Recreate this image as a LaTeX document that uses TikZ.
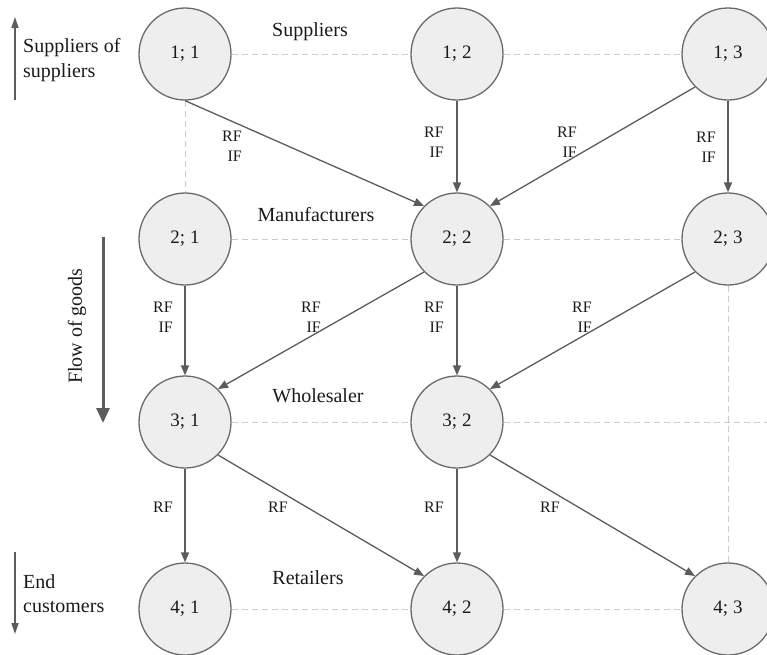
\documentclass[tikz,border=0pt]{standalone}
\usepackage{fontspec}
\setmainfont{Liberation Serif}
\usetikzlibrary{arrows.meta}
\definecolor{nodefill}{HTML}{EEEEEE}
\definecolor{nodeline}{HTML}{6A6A6A}
\definecolor{flow}{HTML}{5C5C5C}
\definecolor{grid}{HTML}{CCCCCC}
\definecolor{ink}{HTML}{1A1A1A}

\begin{document}
\begin{tikzpicture}[x=1pt,y=-1pt,
  firm/.style={circle, draw=nodeline, fill=nodefill, line width=1.3pt,
    minimum size=92pt, inner sep=0pt, text=ink, font=\fontsize{19}{23}\selectfont},
  link/.style={draw=flow, line width=1.3pt, -{Triangle[length=10pt,width=8pt]}},
  tie/.style={draw=grid, line width=1pt, dash pattern=on 6pt off 4pt},
  flowlabel/.style={anchor=east, align=right, inner sep=0pt, text=ink,
    font=\fontsize{16}{20}\selectfont},
  tier/.style={inner sep=0pt, text=ink, font=\fontsize{20}{24}\selectfont},
  side/.style={anchor=west, align=left, inner sep=0pt, text=ink},
  sidearrow/.style={draw=flow, line width=1.6pt, -{Triangle[length=11pt,width=7pt]}},
  goodsarrow/.style={draw=flow, line width=3pt, -{Triangle[length=15pt,width=13pt]}}
]
\useasboundingbox (0,0) rectangle (767,654);

% firms of the supply network, tier;position
\node[firm] (n11) at (185,54)  {1; 1};
\node[firm] (n12) at (457,54)  {1; 2};
\node[firm] (n13) at (728,54)  {1; 3};
\node[firm] (n21) at (185,239) {2; 1};
\node[firm] (n22) at (457,239) {2; 2};
\node[firm] (n23) at (728,239) {2; 3};
\node[firm] (n31) at (185,422) {3; 1};
\node[firm] (n32) at (457,422) {3; 2};
\node[firm] (n41) at (185,609) {4; 1};
\node[firm] (n42) at (457,609) {4; 2};
\node[firm] (n43) at (728,609) {4; 3};
\coordinate (rowthreeend) at (767,422);

% dashed grid between firms
\draw[tie] (n11.east) -- (n12.west);
\draw[tie] (n12.east) -- (n13.west);
\draw[tie] (n21.east) -- (n22.west);
\draw[tie] (n22.east) -- (n23.west);
\draw[tie] (n31.east) -- (n32.west);
\draw[tie] (n32.east) -- (rowthreeend);
\draw[tie] (n41.east) -- (n42.west);
\draw[tie] (n42.east) -- (n43.west);
\draw[tie] (n11.south) -- (n21.north);
\draw[tie] (n23.south) -- (n43.north);

% tier names
\node[tier] (tsup) at (310,32)  {Suppliers};
\node[tier] (tman) at (316,215) {Manufacturers};
\node[tier] (twho) at (318,396) {Wholesaler};
\node[tier] (tret) at (308,578) {Retailers};

% flows between firms
\draw[link] (n11.south) -- (n22.north west);
\draw[link] (n12.south) -- (n22.north);
\draw[link] (n13.south west) -- (n22.north east);
\draw[link] (n13.south) -- (n23.north);
\draw[link] (n21.south) -- (n31.north);
\draw[link] (n22.south west) -- (n31.north east);
\draw[link] (n22.south) -- (n32.north);
\draw[link] (n23.south west) -- (n32.north east);
\draw[link] (n31.south) -- (n41.north);
\draw[link] (n31.south east) -- (n42.north west);
\draw[link] (n32.south) -- (n42.north);
\draw[link] (n32.south east) -- (n43.north west);

% flow labels
\node[flowlabel] (l1122) at (242,146) {RF\\IF};
\node[flowlabel] (l1222) at (444,142) {RF\\IF};
\node[flowlabel] (l1322) at (577,142) {RF\\IF};
\node[flowlabel] (l1323) at (716,147) {RF\\IF};
\node[flowlabel] (l2131) at (173,317) {RF\\IF};
\node[flowlabel] (l2231) at (321,317) {RF\\IF};
\node[flowlabel] (l2232) at (444,317) {RF\\IF};
\node[flowlabel] (l2332) at (592,317) {RF\\IF};
\node[flowlabel] (l3141) at (173,507) {RF};
\node[flowlabel] (l3142) at (288,507) {RF};
\node[flowlabel] (l3242) at (444,507) {RF};
\node[flowlabel] (l3243) at (560,507) {RF};

% direction markers on the left
\coordinate (supfoot) at (15,100);
\coordinate (suptip)  at (15,17);
\draw[sidearrow] (supfoot) -- (suptip);
\node[side, font=\fontsize{20}{25}\selectfont] (supname) at (23,60) {Suppliers of\\suppliers};

\coordinate (goodstop) at (103,237);
\coordinate (goodstip) at (103,423);
\draw[goodsarrow] (goodstop) -- (goodstip);
\node[inner sep=0pt, text=ink, rotate=90, font=\fontsize{20}{24}\selectfont] (goods) at (77,326) {Flow of goods};

\coordinate (endtop) at (15,552);
\coordinate (endtip) at (15,634);
\draw[sidearrow] (endtop) -- (endtip);
\node[side, font=\fontsize{20}{24}\selectfont] (endname) at (23,594) {End\\customers};
\end{tikzpicture}
\end{document}
